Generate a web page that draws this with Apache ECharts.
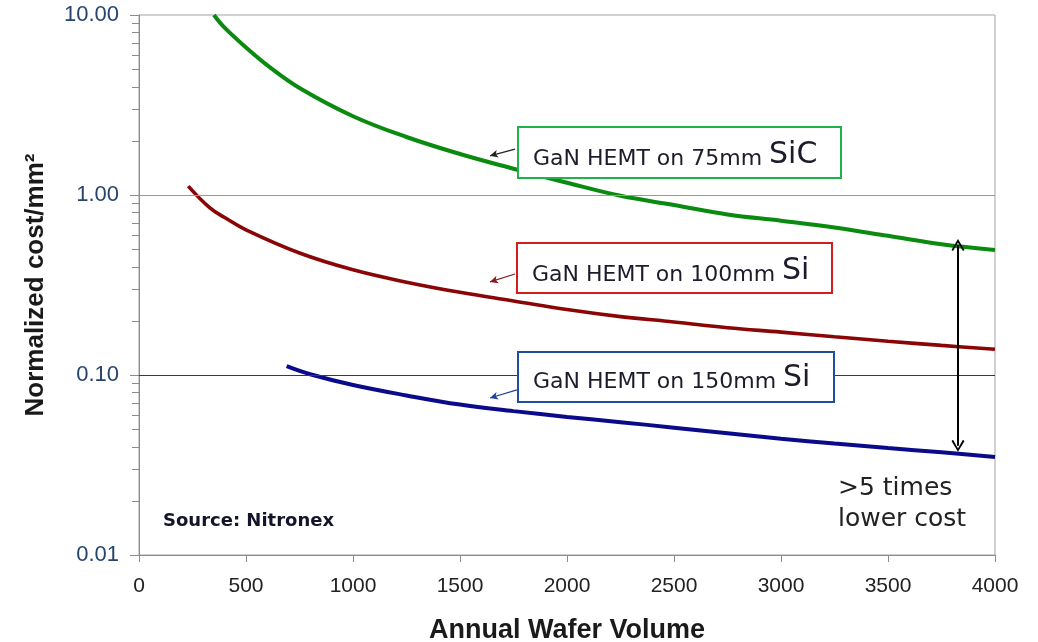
<!DOCTYPE html>
<html>
<head>
<meta charset="utf-8">
<script src="https://cdn.jsdelivr.net/npm/echarts@6/dist/echarts.min.js"></script>
<style>
  html, body { margin: 0; padding: 0; background: #ffffff; }
  #chart { width: 1038px; height: 642px; }
</style>
</head>
<body>
<div id="chart"></div>
<script>
// Annual wafer volume vs. normalized cost per mm² (log scale)
const sicVolume = [350, 400, 500, 600, 750, 1000, 1250, 1500, 1750, 2000, 2250, 2500, 2750, 3000, 3250, 3500, 3750, 4000];
const sicCost   = [10, 8.5, 6.6, 5.25, 3.93, 2.74, 2.1, 1.69, 1.40, 1.17, 0.99, 0.88, 0.78, 0.72, 0.66, 0.593, 0.533, 0.495];

const si100Volume = [230, 330, 400, 500, 750, 1000, 1250, 1500, 1750, 2000, 2250, 2500, 2750, 3000, 3250, 3500, 3750, 4000];
const si100Cost   = [1.12, 0.85, 0.75, 0.64, 0.476, 0.384, 0.328, 0.288, 0.258, 0.231, 0.211, 0.197, 0.183, 0.173, 0.163, 0.154, 0.146, 0.139];

const si150Volume = [690, 800, 1000, 1250, 1500, 1750, 2000, 2250, 2500, 2750, 3000, 3250, 3500, 3750, 4000];
const si150Cost   = [0.112, 0.101, 0.088, 0.077, 0.0685, 0.063, 0.0585, 0.0547, 0.051, 0.0475, 0.0443, 0.0416, 0.0393, 0.0372, 0.035];

const yTickLabels = ['0.01', '0.10', '1.00', '10.00'];
const yMinorTicks = [0.02, 0.03, 0.04, 0.05, 0.06, 0.07, 0.08, 0.09,
                     0.2, 0.3, 0.4, 0.5, 0.6, 0.7, 0.8, 0.9,
                     2, 3, 4, 5, 6, 7, 8, 9];

// Callout arrows and the ">5 times" span, in data coordinates [volume, cost]
const sicPointer   = [[1757, 1.80], [1640, 1.65]];
const si100Pointer = [[1757, 0.364], [1640, 0.329]];
const si150Pointer = [[1766, 0.0826], [1640, 0.0745]];
const costGap      = [[3827, 0.527], [3827, 0.0404]];

const zip = (xs, ys) => xs.map((x, i) => [x, ys[i]]);

const SANS = "'Liberation Sans', Arial, Helvetica, sans-serif";
const VERDANA = "'DejaVu Sans', Verdana, sans-serif";
const AXIS_GREY = '#8c8c8c';
const TEXT_DARK = '#1c1c2c';
const chevron = 'path://M5,0 L10,8.5 L8.8,9.4 L5,2.6 L1.2,9.4 L0,8.5 Z';

const chart = echarts.init(document.getElementById('chart'), null, { renderer: 'canvas' });

function pointerLine(pts) {
  return [{ coord: pts[0] }, { coord: pts[1] }];
}

function calloutLabel(x, y, small, big) {
  return {
    type: 'text', x: x, y: y, z: 102,
    style: {
      text: '{a|' + small + '}{b|' + big + '}',
      verticalAlign: 'top',
      rich: {
        a: { fontFamily: VERDANA, fontSize: 22, lineHeight: 32, verticalAlign: 'bottom', fill: TEXT_DARK },
        b: { fontFamily: VERDANA, fontSize: 30, lineHeight: 36, verticalAlign: 'bottom', fill: TEXT_DARK }
      }
    }
  };
}

const lineStyles = [
  { color: '#222222', width: 1.2, type: 'solid' },
  { color: '#8a1a1a', width: 1.2, type: 'solid' },
  { color: '#2040a0', width: 1.2, type: 'solid' },
  { color: '#000000', width: 2, type: 'solid' }
];

const annotationLines = [sicPointer, si100Pointer, si150Pointer, costGap].map((pts, i) => {
  const seg = pointerLine(pts);
  seg[0].lineStyle = lineStyles[i];
  if (i === 3) {
    seg[0].symbol = chevron; seg[0].symbolSize = [13, 12];
    seg[1].symbol = chevron; seg[1].symbolSize = [13, 12];
  } else {
    seg[0].symbol = 'none';
    seg[1].symbol = 'arrow'; seg[1].symbolSize = [6, 8];
  }
  return seg;
});

const option = {
  animation: false,
  backgroundColor: '#ffffff',
  grid: {
    left: 139, right: 43, top: 15, bottom: 87,
    containLabel: false, outerBoundsMode: 'none',
    show: true, borderColor: '#a3a3a3', borderWidth: 1, backgroundColor: 'transparent'
  },
  xAxis: {
    type: 'value', min: 0, max: 4000, interval: 500,
    axisLine: { show: true, lineStyle: { color: AXIS_GREY, width: 1 } },
    axisTick: { show: true, length: 7, lineStyle: { color: AXIS_GREY } },
    axisLabel: {
      fontFamily: SANS, fontSize: 21, color: '#222222', margin: 21,
      formatter: function (v) { return String(Math.round(v)); }
    },
    splitLine: { show: false },
    name: 'Annual Wafer Volume', nameLocation: 'middle', nameGap: 62,
    nameTextStyle: { fontFamily: SANS, fontWeight: 'bold', fontSize: 27, color: '#1a1a1a' }
  },
  yAxis: {
    type: 'log', logBase: 10, min: 0.01, max: 10,
    axisLine: { show: true, lineStyle: { color: AXIS_GREY, width: 1 } },
    axisTick: { show: true, length: 9, lineStyle: { color: AXIS_GREY } },
    axisLabel: {
      fontFamily: SANS, fontSize: 22, color: '#27446c', margin: 20,
      formatter: function (v) {
        const i = Math.round(Math.log10(v)) + 2;
        return yTickLabels[i] !== undefined ? yTickLabels[i] : '';
      }
    },
    splitLine: { show: false },
    name: 'Normalized cost/mm²', nameLocation: 'middle', nameGap: 90, nameRotate: 90,
    nameTextStyle: { fontFamily: SANS, fontWeight: 'bold', fontSize: 26, color: '#1a1a1a' }
  },
  series: [
    {
      // minor ticks on the log axis plus the decade gridlines
      type: 'custom', name: 'minor-ticks', coordinateSystem: 'cartesian2d',
      data: yMinorTicks.map(v => [0, v]), encode: { x: 0, y: 1 },
      clip: false, silent: true, z: 1,
      renderItem: function (params, api) {
        const p = api.coord([0, api.value(1)]);
        const y = Math.round(p[1]) + 0.5;
        return {
          type: 'line',
          shape: { x1: p[0] - 7, y1: y, x2: p[0], y2: y },
          style: { stroke: AXIS_GREY, lineWidth: 1 }
        };
      },
      markLine: {
        silent: true, symbol: ['none', 'none'], label: { show: false },
        data: [
          { yAxis: 1, lineStyle: { color: '#9a9a9a', width: 1, type: 'solid' } },
          { yAxis: 0.1, lineStyle: { color: '#3a3a3a', width: 1, type: 'solid' } }
        ]
      }
    },
    {
      type: 'line', name: 'GaN HEMT on 75mm SiC', data: zip(sicVolume, sicCost),
      smooth: 0.4, showSymbol: false, z: 3,
      lineStyle: { color: '#0b8a10', width: 4 }
    },
    {
      type: 'line', name: 'GaN HEMT on 100mm Si', data: zip(si100Volume, si100Cost),
      smooth: 0.4, showSymbol: false, z: 3,
      lineStyle: { color: '#8a0606', width: 3.6 }
    },
    {
      type: 'line', name: 'GaN HEMT on 150mm Si', data: zip(si150Volume, si150Cost),
      smooth: 0.4, showSymbol: false, z: 3,
      lineStyle: { color: '#0a0a8a', width: 4 }
    },
    {
      // callout pointers and the cost-gap double arrow
      type: 'line', name: 'annotations', data: [], z: 4, silent: true,
      markLine: { silent: true, label: { show: false }, animation: false, data: annotationLines }
    }
  ],
  graphic: [
    { type: 'rect', z: 100, shape: { x: 518, y: 127, width: 323, height: 51 },
      style: { fill: '#ffffff', stroke: '#22b24c', lineWidth: 2 } },
    { type: 'rect', z: 100, shape: { x: 517, y: 243, width: 315, height: 50 },
      style: { fill: '#ffffff', stroke: '#d21e1e', lineWidth: 2 } },
    { type: 'rect', z: 100, shape: { x: 518, y: 352, width: 316, height: 50 },
      style: { fill: '#ffffff', stroke: '#1f4f9c', lineWidth: 2 } },
    calloutLabel(533, 134, 'GaN HEMT on 75mm ', 'SiC'),
    calloutLabel(532, 250, 'GaN HEMT on 100mm ', 'Si'),
    calloutLabel(533, 357, 'GaN HEMT on 150mm ', 'Si'),
    { type: 'text', z: 102, x: 838, y: 488,
      style: { text: '>5 times', fontFamily: VERDANA, fontSize: 25, fill: '#222222', verticalAlign: 'middle' } },
    { type: 'text', z: 102, x: 838, y: 519,
      style: { text: 'lower cost', fontFamily: VERDANA, fontSize: 25, fill: '#222222', verticalAlign: 'middle' } },
    { type: 'text', z: 102, x: 163, y: 521,
      style: { text: 'Source: Nitronex', fontFamily: VERDANA, fontWeight: 'bold', fontSize: 18, fill: '#14142a', verticalAlign: 'middle' } }
  ]
};

chart.setOption(option);
</script>
</body>
</html>
